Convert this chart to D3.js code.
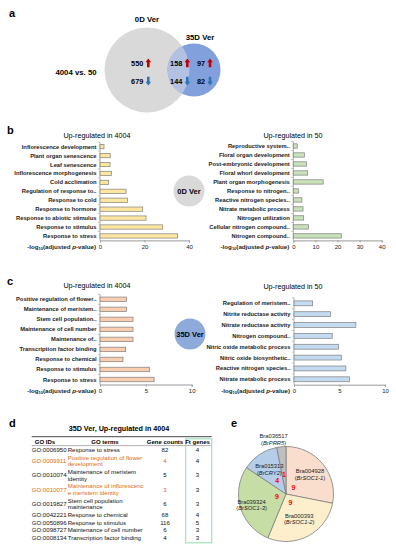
<!DOCTYPE html>
<html>
<head>
<meta charset="utf-8">
<script src="https://cdn.jsdelivr.net/npm/d3@7"></script>
<style>
  body { margin: 0; background: #fff; }
  svg { display: block; font-family: Arial, "Liberation Sans", sans-serif; }
</style>
</head>
<body>
<svg id="fig" width="396" height="550"></svg>
<script>

// ---- data ----
const vennNames = ["0D Ver", "35D Ver"];
const vennComparison = "4004 vs. 50";
const vennUp   = [550, 158, 97];   // 0D only, shared, 35D only
const vennDown = [679, 144, 82];

const b4004Terms = ["Inflorescence development", "Plant organ senescence", "Leaf senescence",
  "Inflorescence morphogenesis", "Cold acclimation", "Regulation of response to..",
  "Response to cold", "Response to hormone", "Response to abiotic stimulus",
  "Response to stimulus", "Response to stress"];
const b4004Values = [1.8, 4.6, 4.5, 5.1, 3.9, 11.7, 12.3, 19.2, 20.7, 28.2, 34.9];

const b50Terms = ["Reproductive system..", "Floral organ development", "Post-embryonic development",
  "Floral whorl development", "Plant organ morphogenesis", "Response to nitrogen..",
  "Reactive nitrogen species..", "Nitrate metabolic process", "Nitrogen utilization",
  "Cellular nitrogen compound..", "Nitrogen compound.."];
const b50Values = [1.8, 5.0, 5.9, 6.5, 13.5, 2.3, 3.9, 4.4, 4.7, 6.9, 21.7];

const c4004Terms = ["Positive regulation of flower..", "Maintenance of meristem..",
  "Stem cell population..", "Maintenance of cell number", "Maintenance of..",
  "Transcription factor binding", "Response to chemical", "Response to stimulus",
  "Response to stress"];
const c4004Values = [2.9, 2.9, 3.6, 3.6, 3.6, 2.8, 2.5, 5.4, 5.9];

const c50Terms = ["Regulation of meristem..", "Nitrite reductase activity",
  "Nitrate reductase activity", "Nitrogen compound..", "Nitric oxide metabolic process",
  "Nitric oxide biosynthetic..", "Reactive nitrogen species..", "Nitrate metabolic process"];
const c50Values = [2.05, 4.0, 6.8, 4.2, 4.9, 5.2, 5.7, 6.1];

const bTicks = [0, 20, 40];
const b50Ticks = [0, 10, 20, 30, 40];
const cTicks = [0, 5, 10];

const tableTitle = "35D Ver,  Up-regulated in 4004";
const tableHeader = ["GO IDs", "GO terms", "Gene counts", "Ft genes"];
const goIds = ["GO:0006950", "GO:0009911", "GO:0010074", "GO:0010077", "GO:0019827",
  "GO:0042221", "GO:0050896", "GO:0098727", "GO:0008134"];
const goTerms = [["Response to stress"], ["Positive regulation of flower", "development"],
  ["Maintenance of meristem", "identity"], ["Maintenance of inflorescenc", "e meristem identity"],
  ["Stem cell population", "maintenance"], ["Response to chemical"], ["Response to stimulus"],
  ["Maintenance of cell number"], ["Transcription factor binding"]];
const geneCounts = [82, 4, 5, 3, 6, 68, 116, 6, 4];
const ftGenes = [4, 4, 3, 3, 3, 4, 5, 3, 3];
const flowerTerm = [false, true, false, true, false, false, false, false, false];

const pieGenes = ["Bra004928", "Bra000393", "Bra039324", "Bra015313", "Bra036517"];
const pieAliases = ["BrSOC1-1", "BrSOC1-2", "BrSOC1-3", "BrCRY2", "BrPRR5"];
const pieCounts = [9, 9, 9, 4, 1];
const pieColors = ["#f9ddcd", "#fdefcb", "#c7dda6", "#b6cdea", "#bfbfbf"];

// ---- drawing ----
let svg = d3.select("#fig");
let defs = svg.append("defs");

function panelLabel(txt, x, y) {
    svg.append("text").attr("x", x).attr("y", y)
        .style("font-size", "11px").style("font-weight", "bold").text(txt);
}

// thick block arrow, up or down
function arrowPath(x, y, up) {
    let s = up ? -1 : 1;
    let p = d3.path();
    p.moveTo(x - 1.3, y - s * 4.2);
    p.lineTo(x + 1.3, y - s * 4.2);
    p.lineTo(x + 1.3, y + s * 0.8);
    p.lineTo(x + 2.8, y + s * 0.8);
    p.lineTo(x, y + s * 4.4);
    p.lineTo(x - 2.8, y + s * 0.8);
    p.lineTo(x - 1.3, y + s * 0.8);
    p.closePath();
    return p.toString();
}

// ---- a : venn ----
panelLabel("a", 9, 17);
let c0 = { x: 147, y: 70, r: 42.5 };
let c1 = { x: 194, y: 70, r: 26.5 };

defs.append("clipPath").attr("id", "clipGray")
    .append("circle").attr("cx", c0.x).attr("cy", c0.y).attr("r", c0.r);

svg.append("circle").attr("cx", c0.x).attr("cy", c0.y).attr("r", c0.r).style("fill", "#d9d9d9");
svg.append("circle").attr("cx", c1.x).attr("cy", c1.y).attr("r", c1.r).style("fill", "#82a0db");
svg.append("circle").attr("cx", c1.x).attr("cy", c1.y).attr("r", c1.r)
    .attr("clip-path", "url(#clipGray)").style("fill", "#b3c2e2");

svg.append("text").attr("x", c0.x).attr("y", 22).attr("text-anchor", "middle")
    .style("font-size", "7.8px").style("font-weight", "bold").text(vennNames[0]);
svg.append("text").attr("x", 200).attr("y", 40).attr("text-anchor", "middle")
    .style("font-size", "7.8px").style("font-weight", "bold").text(vennNames[1]);
svg.append("text").attr("x", 76).attr("y", 75).attr("text-anchor", "middle")
    .style("font-size", "7.8px").style("font-weight", "bold").text(vennComparison);

let arrowX = [148.3, 187.3, 210];
let upY = 63, downY = 81;
vennUp.forEach((v, i) => {
    svg.append("text").attr("x", arrowX[i] - 5).attr("y", upY).attr("dy", "0.35em")
        .attr("text-anchor", "end").style("font-size", "7.3px").style("font-weight", "bold").text(v);
    svg.append("path").attr("d", arrowPath(arrowX[i], upY, true)).style("fill", "#c00000");
});
vennDown.forEach((v, i) => {
    svg.append("text").attr("x", arrowX[i] - 5).attr("y", downY).attr("dy", "0.35em")
        .attr("text-anchor", "end").style("font-size", "7.3px").style("font-weight", "bold").text(v);
    svg.append("path").attr("d", arrowPath(arrowX[i], downY, false)).style("fill", "#2e75b6");
});

// ---- horizontal bar chart ----
function barPanel(o) {
    let g = svg.append("g");
    let x = d3.scaleLinear().domain([0, o.max]).range([o.left, o.right]);
    let y = d3.scaleBand().domain(o.terms).range([o.top, o.bottom]).paddingInner(o.pad).paddingOuter(o.pad / 2);

    g.append("text").attr("x", o.titleX).attr("y", o.titleY).attr("text-anchor", "middle")
        .style("font-size", "7.2px").text(o.title);

    let xAxis = g.append("g").attr("transform", "translate(0," + o.bottom + ")")
        .call(d3.axisBottom(x).tickValues(o.ticks).tickSize(2).tickPadding(2));
    xAxis.select(".domain").style("stroke", "#999");
    xAxis.selectAll("line").style("stroke", "#999");
    xAxis.selectAll("text").style("font-size", "6px").style("font-family", "Arial, 'Liberation Sans', sans-serif").style("fill", "#222");

    // y axis line with small ticks between rows
    g.append("line").attr("x1", o.left).attr("x2", o.left).attr("y1", o.top).attr("y2", o.bottom)
        .style("stroke", "#999").style("stroke-width", 0.8);
    g.selectAll(".yt").data(o.terms).enter().append("line")
        .attr("x1", o.left - 2).attr("x2", o.left)
        .attr("y1", d => y(d) - y.step() * y.paddingInner() / 2)
        .attr("y2", d => y(d) - y.step() * y.paddingInner() / 2)
        .style("stroke", "#999").style("stroke-width", 0.6);

    g.selectAll("rect").data(o.terms).enter().append("rect")
        .attr("x", x(0))
        .attr("y", d => y(d))
        .attr("width", (d, i) => x(o.values[i]) - x(0))
        .attr("height", y.bandwidth())
        .style("fill", o.fill)
        .style("stroke", "#7f7f7f")
        .style("stroke-width", 0.7);

    g.selectAll(".lbl").data(o.terms).enter().append("text")
        .attr("x", o.left - 3.5)
        .attr("y", d => y(d) + y.bandwidth() / 2)
        .attr("dy", "0.35em")
        .attr("text-anchor", "end")
        .style("font-size", "5.8px").style("font-weight", "bold").style("fill", "#222")
        .text(d => d);

    let ax = g.append("text").attr("x", o.left - 4).attr("y", o.bottom + 6.3).attr("dy", "0.35em")
        .attr("text-anchor", "end").style("font-size", "6.2px").style("font-weight", "bold").style("fill", "#222");
    ax.append("tspan").text("-log");
    ax.append("tspan").attr("dy", "1.2").style("font-size", "4px").text("10");
    ax.append("tspan").attr("dy", "-1.2").text("(adjusted ");
    ax.append("tspan").style("font-style", "italic").text("p");
    ax.append("tspan").text("-value)");
}

function roundBadge(txt, cx, cy, r, col) {
    svg.append("circle").attr("cx", cx).attr("cy", cy).attr("r", r).style("fill", col);
    svg.append("text").attr("x", cx).attr("y", cy).attr("dy", "0.35em").attr("text-anchor", "middle")
        .style("font-size", "7.5px").style("font-weight", "bold").text(txt);
}

// ---- b ----
panelLabel("b", 7, 134);
barPanel({ terms: b4004Terms, values: b4004Values, max: 40, ticks: bTicks,
    left: 100, right: 189, top: 142.2, bottom: 240.4, pad: 0.52,
    title: "Up-regulated in 4004", titleX: 97, titleY: 137.5, fill: "#fde7a0" });
barPanel({ terms: b50Terms, values: b50Values, max: 40, ticks: b50Ticks,
    left: 293.3, right: 381.7, top: 141.5, bottom: 240.4, pad: 0.52,
    title: "Up-regulated in 50", titleX: 293, titleY: 137.5, fill: "#c9e2b8" });
roundBadge("0D Ver", 189, 191, 15.5, "#d9d9d9");

// ---- c ----
panelLabel("c", 7, 285);
barPanel({ terms: c4004Terms, values: c4004Values, max: 10, ticks: cTicks,
    left: 100, right: 191.7, top: 294.3, bottom: 384.5, pad: 0.55,
    title: "Up-regulated in 4004", titleX: 97, titleY: 287.5, fill: "#f9cdb0" });
barPanel({ terms: c50Terms, values: c50Values, max: 10, ticks: cTicks,
    left: 294, right: 385, top: 297.9, bottom: 384.7, pad: 0.55,
    title: "Up-regulated in 50", titleX: 293, titleY: 288.5, fill: "#c3daf0" });
roundBadge("35D Ver", 190, 334, 15.5, "#8eaadb");

// ---- d : table ----
panelLabel("d", 9, 427);
svg.append("text").attr("x", 119).attr("y", 431).attr("text-anchor", "middle")
    .style("font-size", "7.2px").style("font-weight", "bold").text(tableTitle);

let colX = [31.7, 67.7, 165, 197.5];
svg.append("line").attr("x1", 31.7).attr("x2", 211.7).attr("y1", 436.7).attr("y2", 436.7)
    .style("stroke", "#333").style("stroke-width", 0.9);
svg.append("line").attr("x1", 31.7).attr("x2", 211.7).attr("y1", 445.6).attr("y2", 445.6)
    .style("stroke", "#666").style("stroke-width", 0.5);
svg.append("rect").attr("x", 185.7).attr("y", 438.8).attr("width", 26).attr("height", 104)
    .style("fill", "none").style("stroke", "#a3e0bd").style("stroke-width", 1.2);

let headX = [45, 105, 165, 197.5];
tableHeader.forEach((h, i) => {
    svg.append("text").attr("x", headX[i]).attr("y", 441.5).attr("dy", "0.35em")
        .attr("text-anchor", "middle").style("font-size", "6px").style("font-weight", "bold").text(h);
});

let rowY = 450;
goIds.forEach((id, i) => {
    let lines = goTerms[i];
    let col = flowerTerm[i] ? "#e36c09" : "#111";
    let mid = rowY + (lines.length - 1) * 6.6 / 2;
    let row = svg.append("g").style("font-size", "6.1px").style("fill", col);
    row.append("text").attr("x", colX[0]).attr("y", mid).attr("dy", "0.35em").text(id);
    lines.forEach((t, j) => {
        row.append("text").attr("x", colX[1]).attr("y", rowY + j * 6.6).attr("dy", "0.35em").text(t);
    });
    row.append("text").attr("x", colX[2]).attr("y", mid).attr("dy", "0.35em")
        .attr("text-anchor", "middle").text(geneCounts[i]);
    row.append("text").attr("x", colX[3]).attr("y", mid).attr("dy", "0.35em")
        .attr("text-anchor", "middle").style("fill", "#111").text(ftGenes[i]);
    rowY += (lines.length - 1) * 6.6 + 7.7;
});

// ---- e : pie ----
panelLabel("e", 231, 427);
let pieC = { x: 286, y: 494, r: 47.5 };
let pie = d3.pie().sort(null).value(d => d)(pieCounts);
let arc = d3.arc().innerRadius(0).outerRadius(pieC.r);
let pg = svg.append("g").attr("transform", "translate(" + pieC.x + "," + pieC.y + ")");

pg.selectAll("path").data(pie).enter().append("path")
    .attr("d", arc)
    .style("fill", (d, i) => pieColors[i])
    .style("stroke", "#7f7f7f")
    .style("stroke-width", 0.8);

// gene names: inside the slices, the smallest slice gets its name above the pie
let nameRadius = [31, 28, 36, 30, 55];
pie.forEach((d, i) => {
    let a = (d.startAngle + d.endAngle) / 2;
    let r = nameRadius[i];
    let t = pg.append("text").attr("text-anchor", "middle")
        .attr("x", r * Math.sin(a) - (i == 4 ? 7 : 0))
        .attr("y", -r * Math.cos(a))
        .style("font-size", "5.8px").style("fill", "#222");
    t.append("tspan").attr("x", t.attr("x")).attr("dy", "-0.15em").text(pieGenes[i]);
    let al = t.append("tspan").attr("x", t.attr("x")).attr("dy", "1.15em");
    al.append("tspan").text("(");
    al.append("tspan").style("font-style", "italic").text(pieAliases[i]);
    al.append("tspan").text(")");
});

// counts near the centre
let numRadius = d3.scaleLinear().domain([1, 9]).range([20, 9.5]);
pg.selectAll(".cnt").data(pie).enter().append("text")
    .attr("x", d => numRadius(d.data) * Math.sin((d.startAngle + d.endAngle) / 2))
    .attr("y", d => -numRadius(d.data) * Math.cos((d.startAngle + d.endAngle) / 2))
    .attr("dy", "0.35em")
    .attr("text-anchor", "middle")
    .style("font-size", "7px").style("font-weight", "bold").style("fill", "#ff0000")
    .text(d => d.data);

</script>
</body>
</html>
